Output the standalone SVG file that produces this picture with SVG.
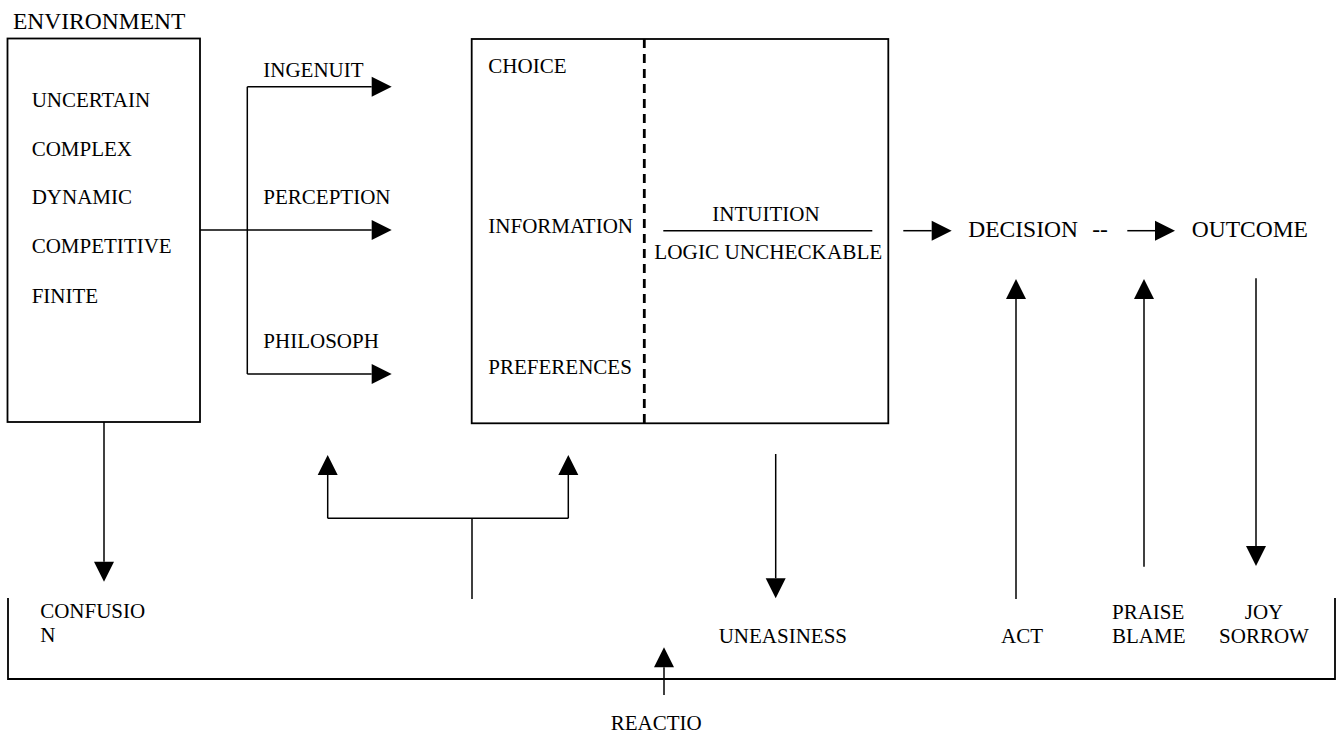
<svg xmlns="http://www.w3.org/2000/svg" width="1338" height="734" viewBox="0 0 1338 734">
  <style>
    text { font-family: "Liberation Serif", "Times New Roman", serif; font-size: 21px; fill: #000; }
    .big { font-size: 23.5px; }
    .box { fill: none; stroke: #000; stroke-width: 1.8; }
    .ln { fill: none; stroke: #000; stroke-width: 1.5; }
    .arr { fill: none; stroke: #000; stroke-width: 1.5; marker-end: url(#head); }
    .dash { fill: none; stroke: #000; stroke-width: 2.8; stroke-dasharray: 9 6; }
    .mid { text-anchor: middle; }
  </style>
  <defs>
    <!-- solid triangular arrowhead, drawn forward from the end of the shaft -->
    <marker id="head" markerUnits="userSpaceOnUse" markerWidth="20" markerHeight="20" refX="0" refY="10" orient="auto" overflow="visible">
      <path d="M0,0 L20,10 L0,20 Z" fill="#000"/>
    </marker>
  </defs>
  <rect width="1338" height="734" fill="#fff"/>

  <!-- environment -->
  <g id="environment">
    <text class="big" x="13" y="29.3">ENVIRONMENT</text>
    <rect class="box" x="7.5" y="38.5" width="192.5" height="383.5"/>
    <text x="31.7" y="106.7">UNCERTAIN</text>
    <text x="31.7" y="155.7">COMPLEX</text>
    <text x="31.7" y="204">DYNAMIC</text>
    <text x="31.7" y="253.3">COMPETITIVE</text>
    <text x="31.7" y="303.3">FINITE</text>
  </g>

  <!-- filters between environment and decision box -->
  <g id="ingenuity"><text x="263.3" y="76.7">INGENUIT</text></g>
  <g id="perception"><text x="263.3" y="204">PERCEPTION</text></g>
  <g id="philosophy"><text x="263.3" y="347.7">PHILOSOPH</text></g>

  <!-- decision process box -->
  <g id="process">
    <rect class="box" x="471.7" y="39" width="416.6" height="384.3"/>
    <line class="dash" x1="644.3" y1="39" x2="644.3" y2="423.3"/>
    <text x="488.3" y="73.3">CHOICE</text>
    <text x="488.3" y="233.3">INFORMATION</text>
    <text x="488.3" y="374.3">PREFERENCES</text>
    <text class="mid" x="766" y="221">INTUITION</text>
    <line class="ln" x1="663.3" y1="230.7" x2="872.3" y2="230.7" stroke-width="1.3"/>
    <text class="mid" x="768.3" y="259.3" textLength="228" lengthAdjust="spacingAndGlyphs">LOGIC UNCHECKABLE</text>
  </g>

  <g id="decision">
    <text class="big" x="968.3" y="236.7">DECISION</text>
    <text class="big" x="1092.3" y="236.7">--</text>
  </g>
  <g id="outcome"><text class="big" x="1191.7" y="236.7">OUTCOME</text></g>

  <!-- reaction band -->
  <g id="reaction">
    <path class="box" d="M8,598 V679 H1335 V598" stroke-width="2"/>
    <text x="610.7" y="730">REACTIO</text>
  </g>
  <g id="confusion">
    <text x="40.2" y="618.3">CONFUSIO</text>
    <text x="40.2" y="641.7">N</text>
  </g>
  <g id="uneasiness"><text x="718.7" y="642.7">UNEASINESS</text></g>
  <g id="act"><text x="1001" y="642.7">ACT</text></g>
  <g id="praise-blame">
    <text x="1112" y="619.3">PRAISE</text>
    <text x="1112" y="642.7">BLAME</text>
  </g>
  <g id="joy-sorrow">
    <text class="mid" x="1264" y="619.3">JOY</text>
    <text class="mid" x="1264" y="642.7">SORROW</text>
  </g>

  <!-- connectors -->
  <g id="connectors">
    <path class="ln" d="M247.3,86.7 V374"/>
    <path class="arr" d="M247.3,86.7 H371.7"/>
    <path class="arr" d="M200,230 H371.7"/>
    <path class="arr" d="M247.3,374 H371.7"/>

    <path class="arr" d="M903.3,230.7 H931.7"/>
    <path class="arr" d="M1127.3,230.7 H1155"/>

    <path class="arr" d="M1016,599 V299"/>
    <path class="arr" d="M1144,566.7 V299"/>
    <path class="arr" d="M1256,278.3 V546"/>

    <path class="arr" d="M104,422 V561.7"/>

    <path class="ln" d="M472,599 V518.3 M327.7,518.3 H568.3"/>
    <path class="arr" d="M327.7,518.3 V475"/>
    <path class="arr" d="M568.3,518.3 V475"/>

    <path class="arr" d="M775.7,454 V578.3"/>
    <path class="arr" d="M664,695 V667.3"/>
  </g>
</svg>
